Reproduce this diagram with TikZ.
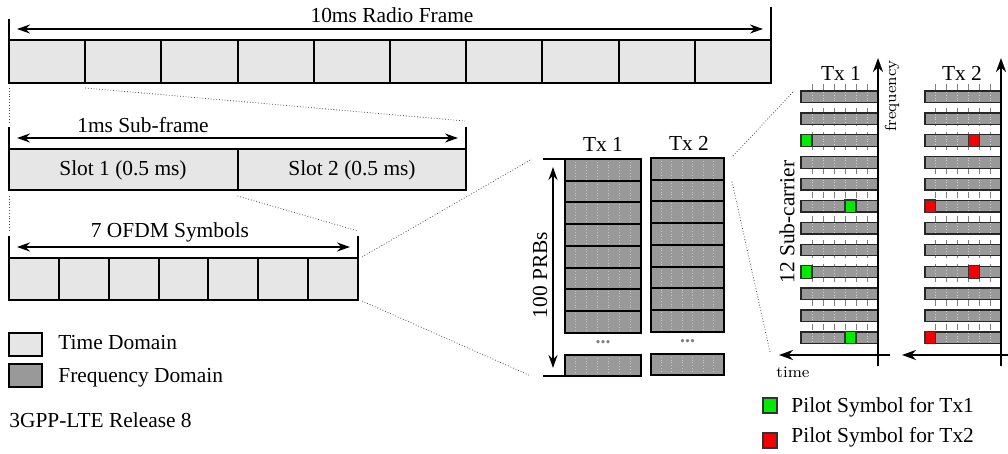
\documentclass[tikz,border=0pt]{standalone}
\usepackage{fontspec}
\setmainfont{Liberation Serif}
\usetikzlibrary{arrows.meta,calc,positioning}
\definecolor{timegray}{RGB}{230,230,230}
\definecolor{freqgray}{RGB}{153,153,153}
\definecolor{pilotone}{RGB}{0,235,0}
\definecolor{pilottwo}{RGB}{245,0,0}
\tikzset{
  boxline/.style={line width=1pt,draw=black},
  timebox/.style={boxline,fill=timegray},
  freqbox/.style={boxline,fill=freqgray},
  spanarrow/.style={{Stealth[length=6.5pt,width=4.5pt]}-{Stealth[length=6.5pt,width=4.5pt]},line width=1pt},
  axisarrow/.style={-{Stealth[length=7pt,width=5pt]},line width=1.2pt},
  zoomline/.style={densely dotted,line width=0.4pt,black!70},
  prbgrid/.style={densely dotted,line width=0.4pt,gray!45},
  subgridline/.style={dashed,line width=0.45pt,gray},
  bargrid/.style={densely dotted,line width=0.4pt,gray!35},
  subbar/.style={fill=freqgray,draw=black!85,line width=0.65pt},
  pilotbox/.style={draw=black!80,line width=0.6pt},
  lbl/.style={font=\fontsize{10.7}{13}\selectfont,inner sep=0pt},
  axislbl/.style={font=\fontfamily{lmr}\selectfont\footnotesize,inner sep=0pt},
}
\newcommand{\timerow}[6]{%
  \filldraw[timebox] (#2,#3) rectangle (#4,#5);%
  \coordinate (#1-nw) at (#2,#3);%
  \coordinate (#1-ne) at (#4,#3);%
  \coordinate (#1-sw) at (#2,#5);%
  \coordinate (#1-se) at (#4,#5);%
  \pgfmathtruncatemacro{\tLast}{#6-1}%
  \foreach \tK in {1,...,\tLast}{%
    \pgfmathsetmacro{\tX}{#2+(#4-#2)*\tK/#6}%
    \draw[boxline] (\tX,#3) -- (\tX,#5) coordinate (#1-d\tK);%
  }%
}
\newcommand{\spanmark}[7]{%
  \draw[boxline] (#1-nw) -- (#1-nw |- 0,#2);%
  \draw[boxline] (#1-ne) -- (#1-ne |- 0,#3);%
  \draw[spanarrow] ($(#1-nw |- 0,#4)+(8,0)$) -- ($(#1-ne |- 0,#4)+(-8,0)$);%
  \node[lbl,anchor=base] (#1-label) at (#5,#6) {#7};%
}
\newcommand{\prbcolumn}[4]{%
  \fill[freqgray] (#2,#4) rectangle (#3,#4+174);%
  \fill[freqgray] (#2,#4+196) rectangle (#3,#4+217);%
  \foreach \pJ in {1,...,6}{%
    \pgfmathsetmacro{\pX}{#2+(#3-#2)*\pJ/7}%
    \draw[prbgrid] (\pX,#4) -- (\pX,#4+174);%
    \draw[prbgrid] (\pX,#4+196) -- (\pX,#4+217);%
  }%
  \foreach \pK in {0,...,7}{%
    \draw[boxline] (#2,#4+21.75*\pK) rectangle (#3,#4+21.75*\pK+21.75);%
  }%
  \draw[boxline] (#2,#4+196) rectangle (#3,#4+217);%
  \coordinate (#1-nw) at (#2,#4);%
  \coordinate (#1-ne) at (#3,#4);%
  \coordinate (#1-sw) at (#2,#4+217);%
  \coordinate (#1-r1) at (#3,#4+21.75);%
  \node[lbl,text=gray,font=\bfseries] (#1-dots) at ({(#2+#3)/2},#4+183) {...};%
}
\newcommand{\subgrid}[3]{%
  \foreach \sJ in {1,...,6}{%
    \pgfmathsetmacro{\sX}{#2+(#3-#2)*\sJ/7}%
    \draw[subgridline] (\sX,84) -- (\sX,348);%
  }%
  \foreach \sK in {0,...,11}{%
    \filldraw[subbar] (#2,91+21.9*\sK) rectangle (#3,102.5+21.9*\sK);%
  }%
  \foreach \sJ in {1,...,6}{%
    \pgfmathsetmacro{\sX}{#2+(#3-#2)*\sJ/7}%
    \foreach \sK in {0,...,11}{%
      \draw[bargrid] (\sX,92+21.9*\sK) -- (\sX,101.5+21.9*\sK);%
    }%
  }%
  \coordinate (#1-nw) at (#2,91);%
}
\newcommand{\pilot}[5]{%
  \pgfmathsetmacro{\qX}{#1+(#2-#1)*#3/7}%
  \pgfmathsetmacro{\qY}{90.5+21.9*(#4-1)}%
  \pgfmathsetmacro{\qW}{(#2-#1)/7}%
  \filldraw[pilotbox,fill=#5] (\qX,\qY) rectangle ++(\qW,12.5);%
}

\begin{document}
\begin{tikzpicture}[x=0.5pt,y=-0.5pt]
  \useasboundingbox (0,0) rectangle (1008,454);
  % time domain rows
  \timerow{frame}{9}{40}{771}{83}{10}
  \spanmark{frame}{19}{7}{29}{392}{23}{10ms Radio Frame}
  \timerow{sub}{9}{149}{466}{190}{2}
  \spanmark{sub}{127}{127}{138}{143}{133}{1ms Sub-frame}
  \node[lbl] (slotone) at (123,170) {Slot 1 (0.5 ms)};
  \node[lbl] (slottwo) at (352,170) {Slot 2 (0.5 ms)};
  \timerow{ofdm}{9}{258}{358}{300}{7}
  \spanmark{ofdm}{236}{236}{247}{170}{238}{7 OFDM Symbols}
  \draw[zoomline] ($(frame-sw)+(0,5)$) -- ($(sub-nw)+(0,-27)$);
  \draw[zoomline] ($(frame-d1)+(0,5)$) -- ($(sub-ne)+(-1,-28)$);
  \draw[zoomline] ($(sub-sw)+(0,6)$) -- ($(ofdm-nw)+(0,-28)$);
  \draw[zoomline] ($(sub-d1)+(0,6)$) -- ($(ofdm-ne)+(0,-27)$);
  % resource blocks
  \prbcolumn{prbone}{565}{641}{159}
  \prbcolumn{prbtwo}{651}{724}{158}
  \node[lbl,anchor=base] (prbone-tx) at (603,152) {Tx 1};
  \node[lbl,anchor=base] (prbtwo-tx) at (689,151) {Tx 2};
  \draw[boxline] ($(prbone-nw)+(-22,0)$) -- (prbone-nw);
  \draw[boxline] ($(prbone-sw)+(-22,0)$) -- (prbone-sw);
  \draw[spanarrow] ($(prbone-nw)+(-12,8)$) -- ($(prbone-sw)+(-12,-8)$);
  \node[lbl,rotate=90] (prbcount) at (540,275) {100 PRBs};
  \draw[zoomline] ($(ofdm-ne)+(4,-1)$) -- ($(prbone-nw)+(-33,0)$);
  \draw[zoomline] ($(ofdm-se)+(4,1)$) -- ($(prbone-sw)+(-34,0)$);
  % sub-carriers
  \subgrid{gridone}{801}{878}
  \subgrid{gridtwo}{925}{1001}
  \pilot{801}{878}{0}{3}{pilotone}
  \pilot{801}{878}{4}{6}{pilotone}
  \pilot{801}{878}{0}{9}{pilotone}
  \pilot{801}{878}{4}{12}{pilotone}
  \pilot{925}{1001}{4}{3}{pilottwo}
  \pilot{925}{1001}{0}{6}{pilottwo}
  \pilot{925}{1001}{4}{9}{pilottwo}
  \pilot{925}{1001}{0}{12}{pilottwo}
  \coordinate (axone-bot) at (878,366);
  \coordinate (axone-top) at (878,58);
  \coordinate (timeone-r) at (890,355);
  \coordinate (timeone-l) at (779,355);
  \coordinate (axtwo-bot) at (1001,366);
  \coordinate (axtwo-top) at (1001,58);
  \coordinate (timetwo-r) at (1010,355);
  \coordinate (timetwo-l) at (902,355);
  \draw[axisarrow] (axone-bot) -- (axone-top);
  \draw[axisarrow] (timeone-r) -- (timeone-l);
  \draw[axisarrow] (axtwo-bot) -- (axtwo-top);
  \draw[axisarrow] (timetwo-r) -- (timetwo-l);
  \node[lbl,anchor=base] (gridone-tx) at (841,81) {Tx 1};
  \node[lbl,anchor=base] (gridtwo-tx) at (962,81) {Tx 2};
  \node[axislbl,rotate=90] (freqlbl) at (892,96) {frequency};
  \node[axislbl] (timelbl) at (793,372) {time};
  \node[lbl,rotate=90] (subcount) at (787,222) {12 Sub-carrier};
  \draw[zoomline] ($(prbtwo-ne)+(9,-2)$) -- ($(gridone-nw)+(-8,1)$);
  \draw[zoomline] ($(prbtwo-r1)+(8,2)$) -- (770,352);
  % legends
  \filldraw[boxline,fill=timegray,line width=0.8pt] (9,333) rectangle (42,356);
  \node[lbl,anchor=base west] (timelegend) at (58,350) {Time Domain};
  \filldraw[boxline,fill=freqgray,line width=0.8pt] (9,364) rectangle (42,387);
  \node[lbl,anchor=base west] (freqlegend) at (58,383) {Frequency Domain};
  \node[lbl,anchor=base west] (release) at (9,428) {3GPP-LTE Release 8};
  \filldraw[pilotbox,fill=pilotone] (763,398) rectangle (777,413);
  \node[lbl,anchor=base west] (pilotonelegend) at (791,413) {Pilot Symbol for Tx1};
  \filldraw[pilotbox,fill=pilottwo] (763,433) rectangle (777,448);
  \node[lbl,anchor=base west] (pilottwolegend) at (791,443) {Pilot Symbol for Tx2};
\end{tikzpicture}
\end{document}
